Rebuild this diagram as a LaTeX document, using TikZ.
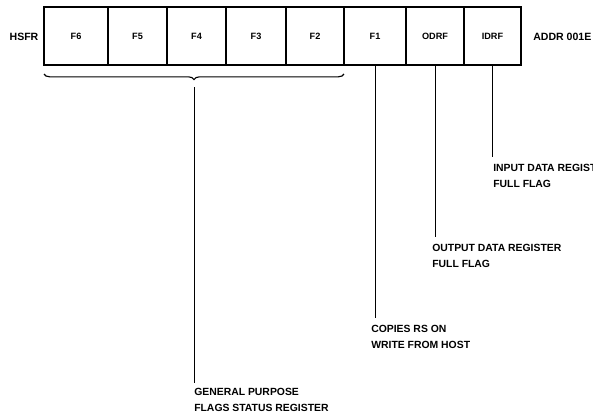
\documentclass[tikz,border=0pt]{standalone}
\usepackage{fontspec}
\setmainfont{Liberation Sans}
\usepackage{tikz}
\usetikzlibrary{decorations.pathreplacing, calc}

\tikzset{
  cell/.style={draw, line width=1.3pt, inner sep=0pt, minimum height=58*0.025cm,
               font=\fontsize{6.5}{8}\selectfont\bfseries},
  tag/.style={inner sep=0pt, font=\fontsize{7.5}{9}\selectfont\bfseries},
  note/.style={inner sep=0pt, anchor=north west, align=left,
               font=\fontsize{7.4}{11.3}\selectfont\bfseries},
  lead/.style={line width=0.6pt}
}

\begin{document}
\begin{tikzpicture}[x=0.025cm, y=-0.025cm]
  \useasboundingbox (0,0) rectangle (593,417);
  \clip (0,0) rectangle (593,417);

  % register cells
  \foreach \nm/\lbl/\l/\r in {f6/F6/44/108, f5/F5/108/167, f4/F4/167/226,
      f3/F3/226/286, f2/F2/286/344, f1/F1/344/406, odrf/ODRF/406/464, idrf/IDRF/464/521}
    \node[cell, minimum width={(\r-\l)*0.025cm}] (\nm) at ({(\l+\r)/2},36) {\lbl};

  \node[tag] (hsfr) at (24,37) {HSFR};
  \node[tag, anchor=west] (addr) at (533,37) {ADDR 001E};

  % brace over the general purpose flags
  \coordinate (bl) at (44,74);
  \coordinate (br) at (344,74);
  \draw[decorate, decoration={brace, mirror, amplitude=4pt}, line width=0.8pt] (bl) -- (br);
  \coordinate (btip) at (194,87);

  % notes
  \node[note] (gp) at (194,388) {GENERAL PURPOSE\\FLAGS STATUS REGISTER};
  \node[note] (cp) at (371,325) {COPIES RS ON\\WRITE FROM HOST};
  \node[note] (od) at (432,244) {OUTPUT DATA REGISTER\\FULL FLAG};
  \node[note] (id) at (493,164) {INPUT DATA REGISTER\\FULL FLAG};

  % leaders
  \draw[lead] (btip) -- (btip |- 0,383);
  \draw[lead] (f1.south) -- (f1.south |- 0,318);
  \draw[lead] (odrf.south) -- (odrf.south |- 0,237);
  \draw[lead] (idrf.south) -- (idrf.south |- 0,157);
\end{tikzpicture}
\end{document}
